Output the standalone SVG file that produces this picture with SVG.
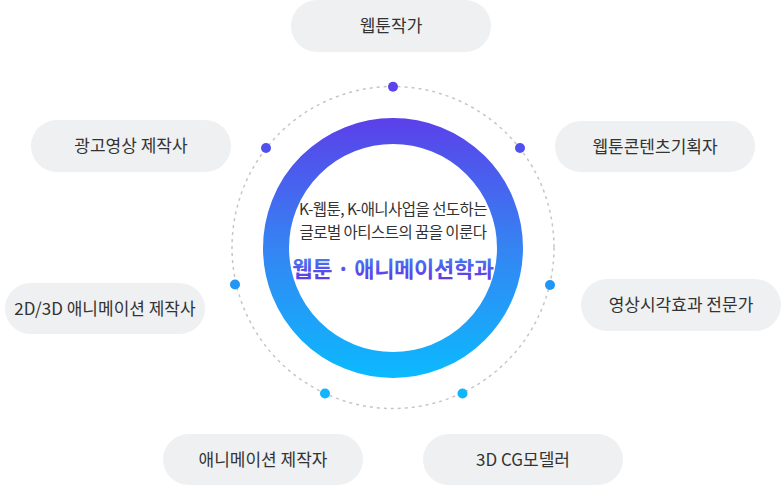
<svg xmlns="http://www.w3.org/2000/svg" width="781" height="486" viewBox="0 0 781 486">
  <defs>
    <linearGradient id="ringGrad" gradientUnits="userSpaceOnUse" x1="0" y1="118" x2="0" y2="378">
      <stop offset="0" stop-color="#5b40e9"/>
      <stop offset="0.5" stop-color="#3584f3"/>
      <stop offset="1" stop-color="#0bbafe"/>
    </linearGradient>
    <linearGradient id="titleGrad" gradientUnits="userSpaceOnUse" x1="0" y1="256" x2="0" y2="281">
      <stop offset="0" stop-color="#3f86f4"/>
      <stop offset="0.55" stop-color="#5750ec"/>
      <stop offset="1" stop-color="#6038e6"/>
    </linearGradient>
    <style>
      .pill { fill: #eef0f2; }
      .lbl { font-family: "Noto Sans CJK KR", "Noto Sans", sans-serif; font-size: 17px; fill: #333333; text-anchor: middle; letter-spacing: 0px; }
      .ctr { font-family: "Noto Sans CJK KR", "Noto Sans", sans-serif; font-size: 15.5px; fill: #333333; text-anchor: middle; letter-spacing: -0.55px; }
      .title { font-family: "Noto Sans CJK KR", "Noto Sans", sans-serif; font-size: 22px; font-weight: bold; fill: url(#titleGrad); text-anchor: middle; letter-spacing: -0.3px; }
      .orbit { fill: none; stroke: #c6c6c6; stroke-width: 1.5; stroke-dasharray: 3 4; }
    </style>
  </defs>

  <g id="connectors">
    <circle class="orbit" cx="393" cy="247.5" r="161"/>
    <circle cx="393" cy="86.7" r="5" fill="#5b44ea"/>
    <circle cx="266" cy="148" r="5" fill="#5150ee"/>
    <circle cx="520" cy="148" r="5" fill="#5150ee"/>
    <circle cx="235" cy="284.5" r="5" fill="#2196f5"/>
    <circle cx="550" cy="285" r="5" fill="#2196f5"/>
    <circle cx="325" cy="393.5" r="5" fill="#10b5fc"/>
    <circle cx="462.5" cy="393.5" r="5" fill="#10b5fc"/>
  </g>

  <g id="center">
    <circle cx="393" cy="248" r="117" fill="none" stroke="url(#ringGrad)" stroke-width="26"/>
    <text class="ctr" x="393" y="214.5">K-웹툰, K-애니사업을 선도하는</text>
    <text class="ctr" x="393" y="238">글로벌 아티스트의 꿈을 이룬다</text>
    <text class="title" x="393" y="276.5">웹툰 · 애니메이션학과</text>
  </g>

  <g id="node-webtoon-artist">
    <rect class="pill" x="291" y="0" width="200" height="52" rx="26"/>
    <text class="lbl" x="391" y="32">웹툰작가</text>
  </g>

  <g id="node-ad-video">
    <rect class="pill" x="31" y="120" width="200" height="52" rx="26"/>
    <text class="lbl" x="131" y="152">광고영상 제작사</text>
  </g>

  <g id="node-webtoon-planner">
    <rect class="pill" x="555" y="121" width="200" height="51" rx="25.5"/>
    <text class="lbl" x="655" y="152.5">웹툰콘텐츠기획자</text>
  </g>

  <g id="node-2d3d">
    <rect class="pill" x="5" y="283" width="200" height="51" rx="25.5"/>
    <text class="lbl" x="105" y="314.5">2D/3D 애니메이션 제작사</text>
  </g>

  <g id="node-vfx">
    <rect class="pill" x="581" y="279" width="200" height="52" rx="26"/>
    <text class="lbl" x="681" y="311">영상시각효과 전문가</text>
  </g>

  <g id="node-animator">
    <rect class="pill" x="163" y="434" width="200" height="51" rx="25.5"/>
    <text class="lbl" x="263" y="465.5">애니메이션 제작자</text>
  </g>

  <g id="node-3dcg">
    <rect class="pill" x="423" y="434" width="200" height="51" rx="25.5"/>
    <text class="lbl" x="523" y="465.5">3D CG모델러</text>
  </g>
</svg>
